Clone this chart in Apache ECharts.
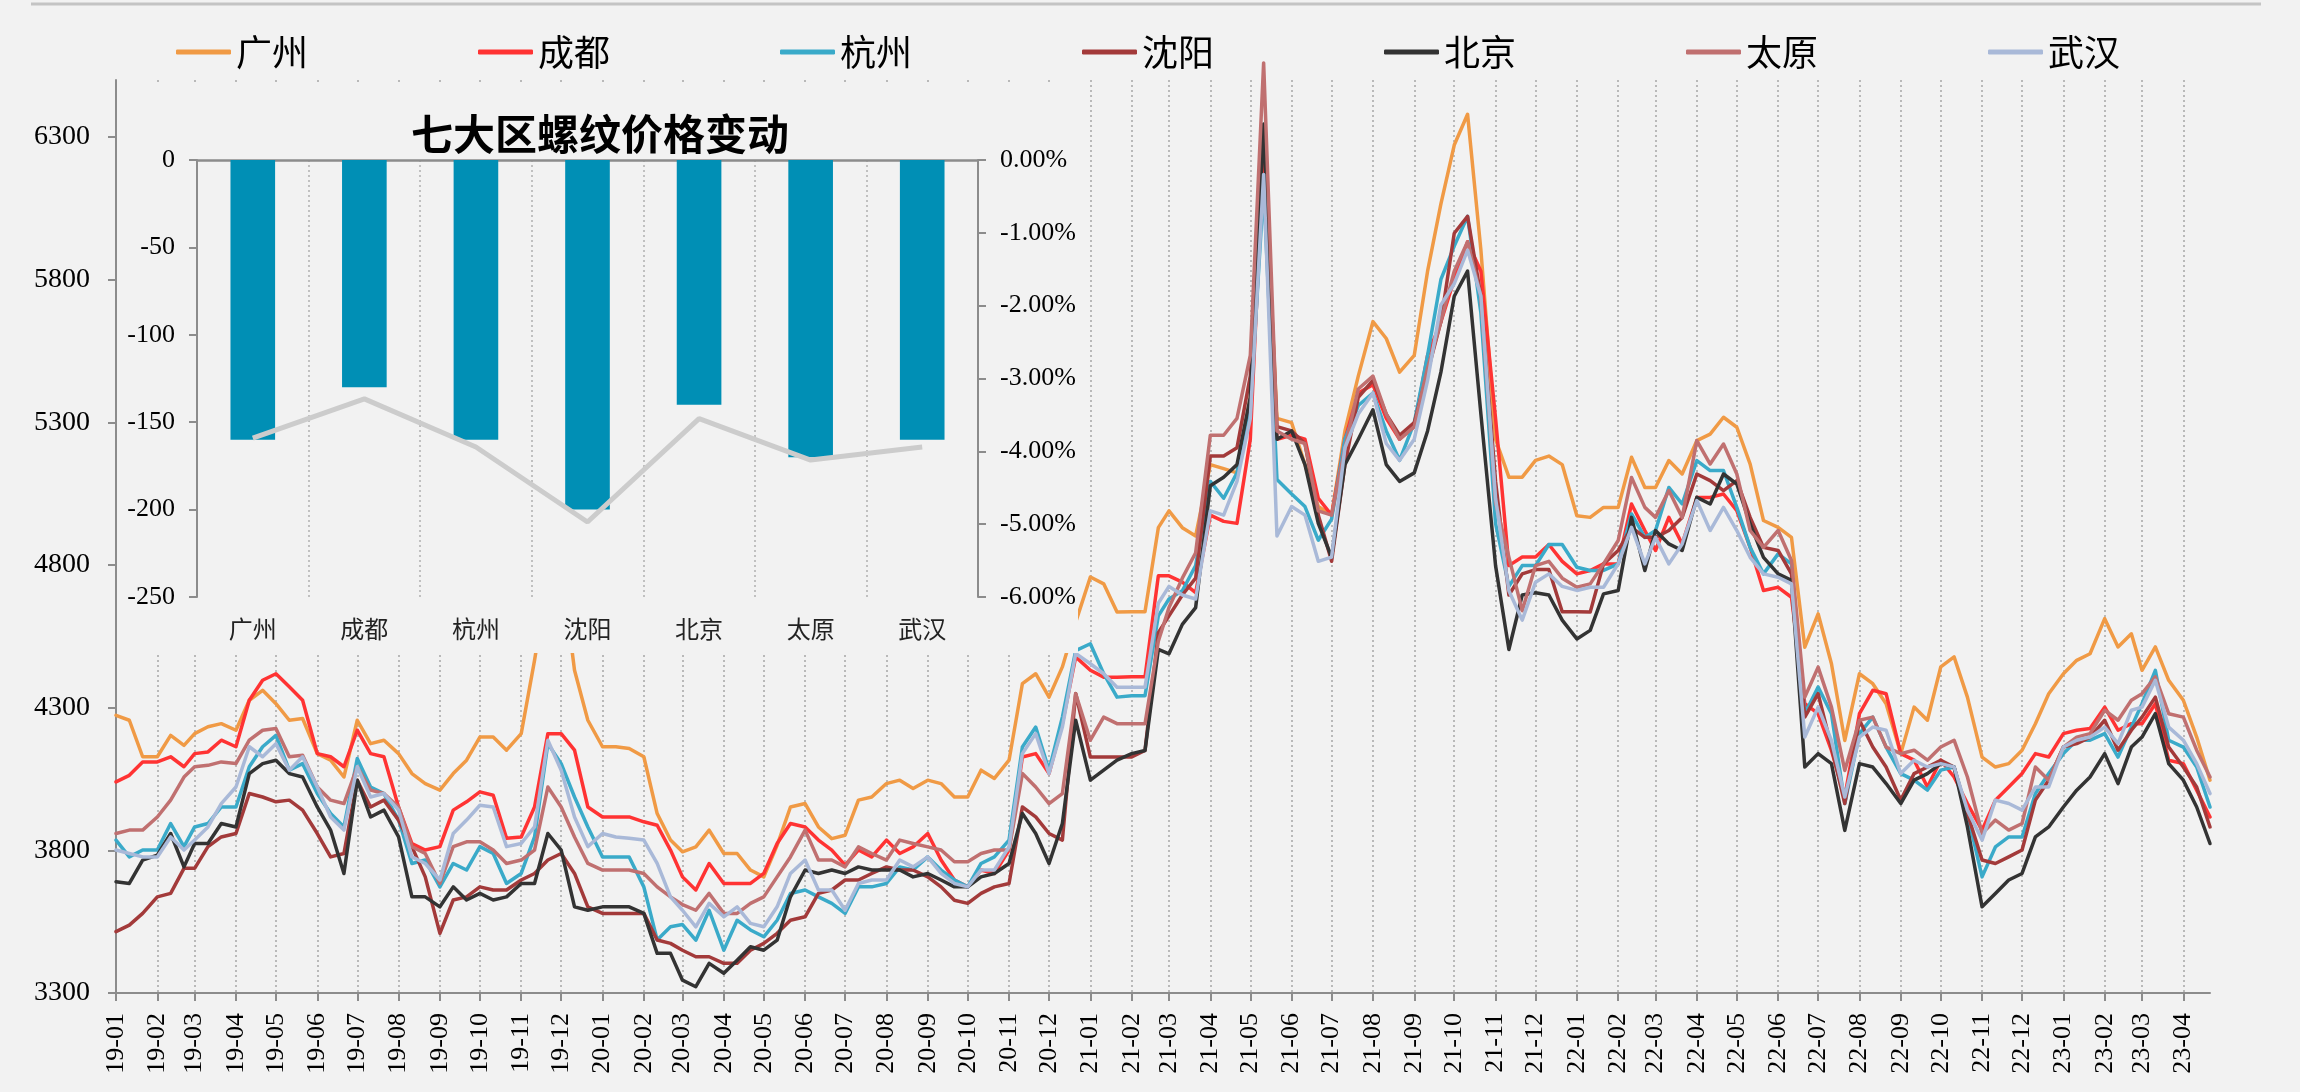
<!DOCTYPE html>
<html><head><meta charset="utf-8">
<script src="https://cdn.jsdelivr.net/npm/echarts@6/dist/echarts.min.js"></script>
<style>html,body{margin:0;padding:0;background:#f2f2f2}#c{width:2300px;height:1092px}</style>
</head><body><div id="c"></div>
<script>
// ---------- data ----------
const cities = ['广州','成都','杭州','沈阳','北京','太原','武汉'];
const cityColors = ['#F09A45','#FF3333','#3AAAC9','#A33A3A','#333333','#C07070','#A9B9D8'];

// sample dates: 1st, 11th, 21st of each month, 2019-01 .. 2023-04
const dates = [];
for (let y = 2019; y <= 2023; y++) {
  for (let m = 1; m <= 12; m++) {
    if (y === 2023 && m > 4) break;
    for (const d of [1, 11, 21]) dates.push(y + '-' + String(m).padStart(2,'0') + '-' + String(d).padStart(2,'0'));
  }
}
// month tick positions (19-01 .. 23-04)
const monthTicks = [];
for (let y = 2019; y <= 2023; y++) for (let m = 1; m <= 12; m++) { if (y === 2023 && m > 4) break; monthTicks.push(y + '-' + String(m).padStart(2,'0') + '-01'); }
const yTicks = [3300, 3800, 4300, 4800, 5300, 5800, 6300];

const GZ = [4273,4256,4128, 4128,4203,4168, 4209,4233,4244, 4221,4326,4361, 4314,4256,4262, 4139,4116,4057, 4256,4174,4186, 4139,4069,4034, 4011,4069,4116, 4197,4197,4151, 4209,4466,4750, 4800,4431,4256,
  4163,4163,4157, 4128,3929,3836, 3795,3812,3871, 3789,3789,3731, 3707,3818,3952, 3964,3882,3841, 3853,3976,3987, 4034,4046,4017, 4046,4034,3987, 3987,4081,4052, 4116,4384,4419, 4337,4443,4600,
  4758,4734,4635, 4636,4636,4931, 4990,4931,4902, 5152,5138,5123, 5388,6300,5314, 5299,5152,5005, 4975,5270,5462, 5653,5594,5476, 5535,5830,6066, 6272,6380,5904, 5241,5108,5108, 5167,5182,5152,
  4973,4967,5002, 5002,5178,5072, 5072,5166,5119, 5236,5259,5318, 5283,5154,4956, 4932,4897,4512, 4629,4454,4185, 4419,4384,4314, 4139,4302,4256, 4443,4478,4337, 4127,4092,4104, 4151,4244,4349,
  4419,4466,4489, 4612,4513,4559, 4431,4513,4396, 4326,4197,4046];
const CD = [4040,4063,4110, 4110,4128,4093, 4139,4145,4186, 4163,4326,4396, 4419,4373,4326, 4139,4128,4093, 4221,4139,4128, 3952,3824,3801, 3813,3941,3970, 4005,3993,3842, 3847,3952,4209, 4209,4151,3952,
  3917,3917,3917, 3900,3888,3801, 3707,3661,3754, 3684,3684,3684, 3719,3824,3894, 3882,3836,3801, 3748,3801,3777, 3836,3789,3812, 3859,3766,3696, 3672,3731,3719, 3801,4127,4139, 4069,4244,4478,
  4431,4407,4407, 4408,4408,4762, 4762,4740,4703, 4975,4953,4946, 5241,6250,5241, 5255,5241,5034, 4975,5241,5403, 5432,5314,5241, 5285,5535,5653, 5801,5933,5830, 5314,4798,4828, 4828,4872,4813,
  4769,4781,4804, 4804,5014,4921, 4851,4967,4874, 5037,5037,5049, 4991,4862,4711, 4722,4687,4314, 4279,4150,3987, 4279,4361,4349, 4139,4116,4022, 4116,4057,3964, 3871,3976,4022, 4069,4139,4127,
  4209,4221,4227, 4302,4221,4244, 4244,4314,4116, 4104,4011,3917];
const HZ = [3836,3777,3801, 3801,3894,3813, 3882,3894,3952, 3952,4093,4163, 4203,4081,4104, 3999,3929,3882, 4122,4022,3999, 3906,3754,3766, 3672,3754,3731, 3813,3789,3684, 3719,3847,4174, 4104,3987,3882,
  3777,3777,3777, 3672,3486,3532, 3540,3485,3590, 3450,3555,3521, 3497,3555,3649, 3661,3637,3614, 3579,3672,3672, 3684,3742,3731, 3777,3731,3696, 3672,3754,3777, 3836,4162,4232, 4081,4267,4500,
  4524,4419,4337, 4342,4342,4622, 4681,4710,4798, 5093,5034,5123, 5344,6125,5100, 5049,5005,4887, 4961,5241,5359, 5403,5270,5167, 5299,5535,5801, 5918,6022,5683, 4946,4725,4798, 4798,4872,4872,
  4792,4781,4781, 4804,4979,4897, 4921,5072,5014, 5166,5131,5131, 5002,4862,4769, 4839,4804,4279, 4372,4279,3964, 4209,4267,4162, 4069,4046,4011, 4081,4092,3929, 3707,3812,3847, 3847,3999,4069,
  4139,4186,4186, 4209,4127,4232, 4314,4431,4186, 4162,4092,3952];
const SY = [3515,3538,3579, 3637,3649,3737, 3737,3813,3847, 3859,3999,3987, 3970,3976,3941, 3859,3777,3789, 4046,3952,3976, 3906,3813,3707, 3509,3626,3637, 3672,3661,3661, 3696,3719,3766, 3789,3719,3602,
  3579,3579,3579, 3579,3486,3474, 3450,3427,3427, 3404,3404,3450, 3474,3509,3555, 3567,3649,3661, 3696,3696,3719, 3742,3731,3731, 3707,3672,3625, 3614,3649,3672, 3684,3952,3917, 3859,3836,4350,
  4127,4127,4127, 4127,4150,4563, 4622,4695,4754, 5182,5182,5211, 5462,6331,5285, 5270,5226,4975, 4813,5152,5388, 5447,5329,5255, 5299,5476,5653, 5963,6022,5742, 5093,4695,4769, 4784,4784,4636,
  4636,4635,4804, 4851,4932,4897, 4897,4921,4967, 5119,5096,5061, 5096,4967,4862, 4851,4769,4267, 4349,4162,3964, 4256,4162,4092, 3976,4069,4092, 4116,4092,3929, 3766,3754,3777, 3801,3976,4046,
  4162,4174,4197, 4256,4151,4221, 4267,4337,4162, 4092,4022,3882];
const BJ = [3690,3684,3766, 3783,3859,3742, 3824,3824,3894, 3882,4069,4104, 4116,4069,4057, 3952,3871,3719, 4046,3917,3941, 3847,3637,3637, 3602,3672,3626, 3649,3626,3637, 3684,3684,3859, 3801,3602,3590,
  3602,3602,3602, 3579,3439,3439, 3345,3322,3404, 3369,3415,3462, 3450,3485,3637, 3731,3719,3731, 3719,3742,3731, 3731,3731,3707, 3719,3696,3672, 3672,3707,3719, 3754,3929,3859, 3754,3894,4256,
  4046,4081,4116, 4139,4150,4504, 4489,4592,4651, 5078,5108,5152, 5388,6346,5241, 5270,5152,4946, 4828,5152,5241, 5344,5152,5093, 5123,5270,5476, 5742,5830,5329, 4798,4504,4695, 4703,4695,4607,
  4541,4571,4699, 4711,4967,4781, 4921,4874,4851, 5037,5014,5119, 5084,4944,4827, 4769,4746,4092, 4139,4104,3870, 4104,4092,4034, 3964,4046,4069, 4104,4092,3882, 3602,3649,3696, 3719,3847,3882,
  3952,4011,4057, 4139,4034,4162, 4197,4279,4104, 4046,3952,3824];
const TY = [3859,3871,3871, 3917,3976,4057, 4093,4098,4110, 4104,4186,4221, 4227,4128,4133, 4022,3976,3964, 4093,4011,3999, 3952,3813,3789, 3684,3813,3830, 3830,3801,3754, 3766,3801,4022, 3952,3847,3754,
  3731,3731,3731, 3719,3672,3637, 3610,3590,3649, 3579,3579,3614, 3637,3707,3777, 3871,3766,3766, 3742,3812,3789, 3766,3836,3824, 3812,3801,3760, 3760,3789,3801, 3801,4069,4022, 3964,3999,4349,
  4186,4267,4244, 4244,4244,4533, 4651,4754,4843, 5255,5255,5314, 5535,6560,5270, 5241,5226,4990, 4975,5211,5417, 5462,5329,5241, 5285,5491,5653, 5830,5933,5742, 5019,4828,4640, 4798,4813,4754,
  4722,4734,4804, 4886,5107,5002, 4967,5061,4967, 5236,5154,5224, 5119,4921,4862, 4921,4816,4337, 4442,4302,4080, 4256,4267,4162, 4139,4151,4116, 4162,4186,4057, 3859,3906,3871, 3894,4092,4046,
  4162,4197,4209, 4291,4256,4326, 4349,4408,4279, 4267,4151,4057];
const WH = [3801,3789,3777, 3777,3847,3801, 3836,3882,3964, 4022,4163,4128, 4174,4081,4128, 4022,3917,3871, 4093,3987,3999, 3941,3777,3754, 3696,3859,3906, 3958,3952,3813, 3824,3882,4186, 4081,3917,3813,
  3859,3847,3842, 3836,3754,3637, 3590,3532,3614, 3567,3602,3544, 3532,3602,3719, 3766,3661,3661, 3590,3684,3696, 3696,3766,3742, 3777,3719,3684, 3672,3731,3731, 3812,4139,4209, 4069,4232,4490,
  4454,4419,4372, 4372,4372,4666, 4725,4695,4681, 4990,4975,5093, 5314,6169,4902, 5005,4975,4813, 4828,5211,5329, 5403,5226,5167, 5241,5447,5712, 5786,5904,5742, 5034,4710,4607, 4740,4769,4725,
  4711,4722,4722, 4804,4932,4804, 4897,4804,4874, 5026,4921,5002, 4921,4827,4769, 4757,4734,4197, 4302,4185,3987, 4197,4232,4221, 4069,4116,4092, 4104,4092,3941, 3836,3976,3964, 3941,4022,4022,
  4162,4186,4197, 4232,4174,4291, 4302,4396,4232, 4186,4104,3999];
const cityValues = [GZ, CD, HZ, SY, BJ, TY, WH];

// inset: 七大区螺纹价格变动
const insetChange = [-160, -130, -160, -200, -140, -170, -160];
const insetPct = [-3.82, -3.28, -3.94, -4.97, -3.55, -4.12, -3.94];
const insetLeftMin = -250, insetRightMin = -6;

// ---------- helpers: date string -> day offset from 2019-01-01 ----------
const DAY0 = Date.UTC(2019, 0, 1);
function dayNum(s) { const p = s.split('-').map(Number); return (Date.UTC(p[0], p[1] - 1, p[2]) - DAY0) / 86400000; }
function dayLabel(v) { const d = new Date(DAY0 + Math.round(v) * 86400000); return String(d.getUTCFullYear()).slice(2) + '-' + String(d.getUTCMonth() + 1).padStart(2, '0'); }
const monthTickNums = monthTicks.map(dayNum);

// ---------- chart ----------
const chart = echarts.init(document.getElementById('c'), null, {renderer: 'canvas'});
const serif = '"Liberation Serif","Times New Roman",serif';
const cjk = '"Noto Sans CJK SC","Noto Sans",sans-serif';
const axisGray = '#8c8c8c';

const mainSeries = cities.map((c, i) => ({
  type: 'line', name: c, xAxisIndex: 0, yAxisIndex: 0,
  data: dates.map((d, j) => [dayNum(d), cityValues[i][j]]),
  symbol: 'none', showSymbol: false, clip: false, z: 2,
  lineStyle: {width: 3.5, color: cityColors[i], cap: 'round', join: 'round'},
  itemStyle: {color: cityColors[i]},
  emphasis: {disabled: true}
}));

const option = {
  backgroundColor: '#f2f2f2',
  animation: false,
  legend: {
    data: cities.map(c => ({name: c, icon: 'roundRect'})),
    left: 171, top: 29, itemWidth: 55, itemHeight: 5, itemGap: 170,
    textStyle: {fontSize: 36, color: '#000', fontFamily: cjk}
  },
  grid: [
    {left: 116, top: 80, width: 2094, height: 913, containLabel: false, outerBoundsMode: 'none'},
    {left: 197, top: 160, width: 781, height: 437, containLabel: false, outerBoundsMode: 'none', z: 10}
  ],
  xAxis: [
    {
      type: 'value', gridIndex: 0, min: 0, max: dayNum('2023-04-21'),
      axisLine: {show: true, onZero: false, lineStyle: {color: axisGray, width: 2}},
      axisTick: {show: true, length: 8, customValues: monthTickNums, lineStyle: {color: axisGray, width: 2}},
      axisLabel: {
        customValues: monthTickNums, rotate: 90, fontSize: 26, fontFamily: serif, color: '#000', margin: 20,
        hideOverlap: false, formatter: dayLabel
      },
      splitLine: {show: true, lineStyle: {type: [2, 3], color: '#a6a6a6', width: 1.5}}
    },
    {
      type: 'category', gridIndex: 1, data: cities, position: 'bottom', z: 10,
      axisLine: {show: false, onZero: false}, axisTick: {show: false},
      axisLabel: {fontSize: 24, color: '#222', margin: 20, fontFamily: cjk},
      splitLine: {show: true, lineStyle: {type: [2, 3], color: '#b0b0b0', width: 1.5}}
    },
    {
      type: 'category', gridIndex: 1, data: cities, position: 'top', z: 10,
      axisLine: {show: true, onZero: false, lineStyle: {color: axisGray, width: 2.5}},
      axisTick: {show: false}, axisLabel: {show: false}, splitLine: {show: false}
    }
  ],
  yAxis: [
    {
      type: 'value', gridIndex: 0, min: 3300, max: 6500,
      axisLine: {show: true, onZero: false, lineStyle: {color: axisGray, width: 2}},
      axisTick: {show: true, length: 8, customValues: yTicks, lineStyle: {color: axisGray, width: 2}},
      axisLabel: {customValues: yTicks, fontSize: 28, fontFamily: serif, color: '#000', margin: 26, formatter: v => String(v)},
      splitLine: {show: false}
    },
    {
      type: 'value', gridIndex: 1, min: insetLeftMin, max: 0, interval: 50, position: 'left', z: 10,
      axisLine: {show: true, lineStyle: {color: axisGray, width: 2}},
      axisTick: {show: true, length: 8, lineStyle: {color: axisGray, width: 2}},
      axisLabel: {fontSize: 26, fontFamily: serif, color: '#000', margin: 22, formatter: v => String(v)},
      splitLine: {show: false}
    },
    {
      type: 'value', gridIndex: 1, min: insetRightMin, max: 0, interval: 1, position: 'right', z: 10,
      axisLine: {show: true, lineStyle: {color: axisGray, width: 2}},
      axisTick: {show: true, length: 8, lineStyle: {color: axisGray, width: 2}},
      axisLabel: {fontSize: 26, fontFamily: serif, color: '#000', margin: 22, formatter: v => v.toFixed(2) + '%'},
      splitLine: {show: false}
    }
  ],
  graphic: [
    {type: 'line', z: 1, shape: {x1: 31, y1: 4, x2: 2261, y2: 4}, style: {stroke: '#c4c4c4', lineWidth: 3}},
    {type: 'rect', z: 5, shape: {x: 120, y: 85, width: 958, height: 568}, style: {fill: '#f2f2f2'}},
    {type: 'text', z: 12, x: 600, y: 134,
     style: {text: '七大区螺纹价格变动', font: 'bold 42px "Noto Sans CJK SC"', fill: '#000',
             align: 'center', verticalAlign: 'middle', textAlign: 'center', textVerticalAlign: 'middle'}}
  ],
  series: mainSeries.concat([
    {type: 'bar', name: '价格变动', xAxisIndex: 1, yAxisIndex: 1, data: insetChange, barWidth: '40%',
     itemStyle: {color: '#008FB5'}, z: 10, emphasis: {disabled: true}},
    {type: 'line', name: '变动幅度', xAxisIndex: 1, yAxisIndex: 2, data: insetPct, symbol: 'none',
     lineStyle: {color: '#cccccc', width: 5}, z: 11, emphasis: {disabled: true}}
  ])
};
chart.setOption(option);
</script>
</body></html>
